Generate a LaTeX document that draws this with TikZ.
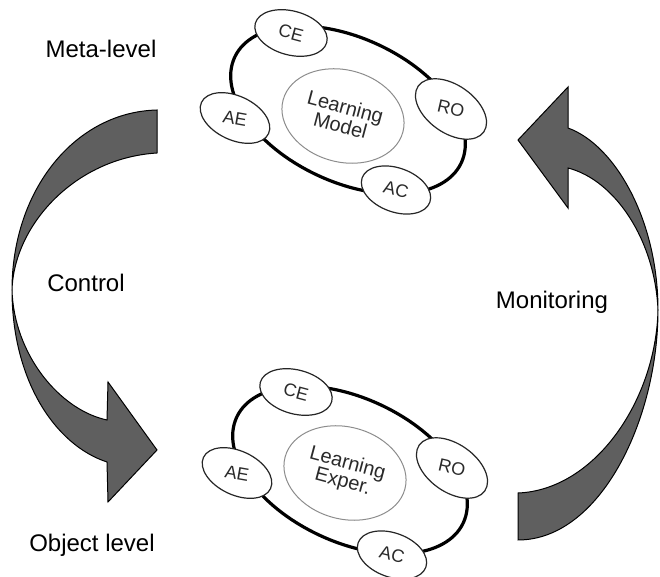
\documentclass[tikz,border=0pt]{standalone}
\usepackage{fontspec}
\setmainfont{Liberation Sans}
\usepackage{tikz}
\usetikzlibrary{shapes.geometric}
\definecolor{arrgrey}{HTML}{5F5F5F}
\definecolor{txtgrey}{HTML}{2A2A2A}
\definecolor{coregrey}{HTML}{8C8C8C}

\begin{document}
\begin{tikzpicture}[x=0.5pt,y=-0.5pt,
  ring/.style={ellipse,draw=black,line width=1.6pt,inner sep=0pt,
               minimum width=125pt,minimum height=72pt,rotate=-25},
  core/.style={ellipse,draw=coregrey,line width=0.5pt,inner sep=0pt,
               minimum width=62pt,minimum height=46pt,rotate=-15,align=center,
               font=\fontsize{10}{9.5}\selectfont,text=txtgrey},
  tag/.style={ellipse,draw=black!85,fill=white,line width=0.6pt,inner sep=0pt,
              minimum width=37pt,minimum height=22pt,
              font=\fontsize{9}{10}\selectfont,text=txtgrey},
  lbl/.style={font=\fontsize{12}{14}\selectfont},
  bigarr/.style={fill=arrgrey,draw=black,line width=0.5pt,line join=miter}]

\useasboundingbox (0,0) rectangle (660,577);

% meta-level
\node[ring] (mring) at (348,110) {};
\node[core] (model) at (343,116) {Learning\\Model};
\node[tag,rotate=-15] (mce) at (291,33) {CE};
\node[tag,rotate=-25] (mae) at (235,118) {\rotatebox{15}{AE}};
\node[tag,rotate=-35,minimum width=40pt,minimum height=24pt] (mro) at (451,109) {\rotatebox{22}{RO}};
\node[tag,rotate=-20,minimum width=36pt] (mac) at (396,190) {\rotatebox{6}{AC}};

% object level
\node[ring] (oring) at (350,470) {};
\node[core] (exper) at (345,473) {Learning\\Exper.};
\node[tag,rotate=-15] (oce) at (296,392) {CE};
\node[tag,rotate=-25] (oae) at (237,473) {\rotatebox{15}{AE}};
\node[tag,rotate=-35,minimum width=40pt,minimum height=24pt] (oro) at (452,468) {\rotatebox{22}{RO}};
\node[tag,rotate=-20,minimum width=36pt] (oac) at (392,555) {\rotatebox{6}{AC}};

% control arrow
\draw[bigarr] (157,110) .. controls (75,112) and (12,190) .. (12,290)
  .. controls (12,380) and (55,445) .. (107,462)
  -- (108,502) -- (157,450) -- (108,382) -- (107,420)
  .. controls (60,410) and (14,355) .. (12,290)
  .. controls (14,225) and (75,158) .. (157,153) -- cycle;

% monitoring arrow
\draw[bigarr] (518,540) .. controls (600,540) and (658,420) .. (658,310)
  .. controls (658,220) and (615,145) .. (568,128)
  -- (568,87) -- (518,140) -- (568,208) -- (568,168)
  .. controls (615,180) and (655,240) .. (658,310)
  .. controls (656,400) and (595,490) .. (518,493) -- cycle;

\node[lbl] (meta) at (101,49) {Meta-level};
\node[lbl] (ctrl) at (86,283) {Control};
\node[lbl] (mon) at (552,302) {Monitoring};
\node[lbl] (obj) at (92,545) {Object level};
\end{tikzpicture}
\end{document}
